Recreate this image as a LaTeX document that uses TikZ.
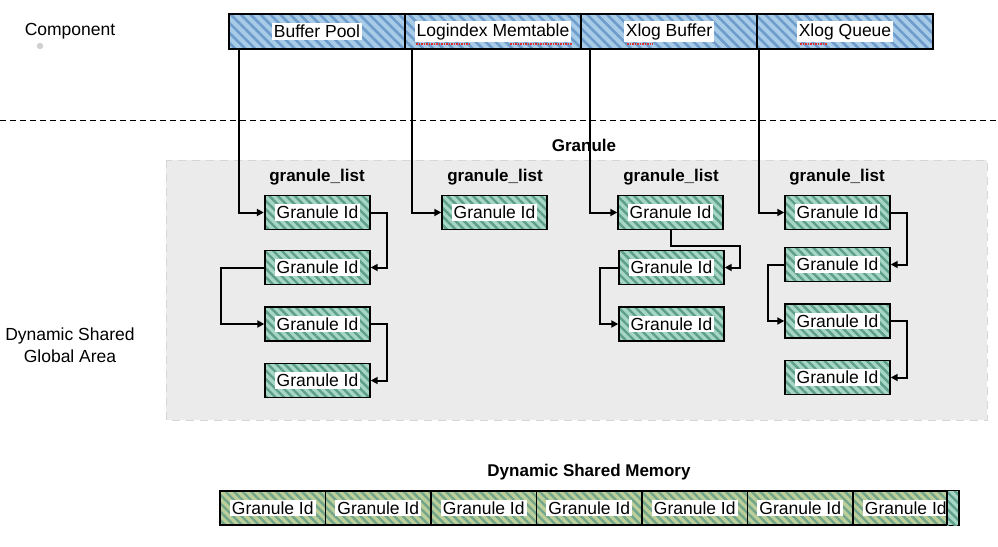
\documentclass[tikz,border=0pt]{standalone}
\usepackage{fontspec}
\setmainfont{Liberation Sans}
\usetikzlibrary{patterns.meta,arrows.meta,calc}
\definecolor{bluebase}{HTML}{A8CBE8}
\definecolor{bluestripe}{HTML}{6E9CCB}
\definecolor{tealbase}{HTML}{A6D6C6}
\definecolor{tealstripe}{HTML}{5E9E8A}
\definecolor{olivebase}{HTML}{BCCF9A}
\definecolor{olivestripe}{HTML}{72A58A}
\definecolor{areagray}{HTML}{EBEBEB}
\definecolor{areaborder}{HTML}{D6D6D6}
\definecolor{dotgray}{HTML}{D0D0D0}
\definecolor{spellred}{HTML}{E03030}
\newcommand{\wbox}[1]{{\setlength{\fboxsep}{2pt}\colorbox{white}{#1}}}
\tikzset{
  txt/.style={font=\fontsize{17.5}{21}\selectfont, inner sep=0pt},
  btxt/.style={font=\fontsize{17}{20}\selectfont\bfseries, inner sep=0pt},
  compbox/.style={draw=black, line width=1.4pt, minimum width=176, minimum height=35, inner sep=0pt,
    font=\fontsize{17.5}{21}\selectfont,
    preaction={fill=bluebase},
    pattern={Lines[angle=-45,distance=7pt,line width=2.6pt]}, pattern color=bluestripe},
  gbox/.style={draw=black, line width=1.4pt, minimum width=105, minimum height=34, inner sep=0pt,
    font=\fontsize{17.5}{21}\selectfont,
    preaction={fill=tealbase},
    pattern={Lines[angle=-45,distance=6pt,line width=2.4pt]}, pattern color=tealstripe},
  mbox/.style={draw=black, line width=1.4pt, minimum width=105.5, minimum height=34, inner sep=0pt,
    font=\fontsize{17.5}{21}\selectfont,
    preaction={fill=olivebase},
    pattern={Lines[angle=-45,distance=6pt,line width=2.4pt]}, pattern color=olivestripe},
  arr/.style={draw=black, line width=2pt, -{Triangle[length=7pt,width=7pt]}},
  spell/.style={draw=spellred, line width=1.2pt, dash pattern=on 1.5pt off 1pt},
}
\begin{document}
\begin{tikzpicture}[x=1pt,y=-1pt]
\useasboundingbox (0,0) rectangle (998,546);

% gray area
\path[fill=areagray, draw=areaborder, line width=1pt, dash pattern=on 8pt off 6pt] (166,160) rectangle (987,420);

% dashed separator
\coordinate (dl) at (0,120);
\coordinate (dr) at (998,120);
\draw[black, line width=1pt, dash pattern=on 6pt off 4pt] (dl) -- (dr);

% labels
\node[txt] (comp) at (70,31) {Component};
\fill[dotgray] (40,46) circle (3.2);
\node[btxt] (gran) at (584,145) {Granule};
\node[txt, align=center] (dsga) at (70,345) {Dynamic Shared\\[1pt]Global Area};
\node[btxt] (dsm) at (589,472) {Dynamic Shared Memory};

% component bar
\node[compbox] (bp) at (317,31.5) {\wbox{Buffer Pool}};
\node[compbox] (lm) at (493,31.5) {\wbox{Logindex Memtable}};
\node[compbox] (xb) at (669,31.5) {\wbox{Xlog Buffer}};
\node[compbox] (xq) at (845,31.5) {\wbox{Xlog Queue}};
\draw[spell] (416,44) -- (470,44);
\draw[spell] (510,44) -- (572,44);
\draw[spell] (627,44) -- (653,44);
\draw[spell] (800,44) -- (827,44);

% granule_list headings
\node[btxt] (h1) at (317,177) {granule\_list};
\node[btxt] (h2) at (495,177) {granule\_list};
\node[btxt] (h3) at (671,177) {granule\_list};
\node[btxt] (h4) at (837,177) {granule\_list};

% column 1
\node[gbox] (g11) at (317.5,212.5) {\wbox{Granule Id}};
\node[gbox] (g12) at (317.5,267.5) {\wbox{Granule Id}};
\node[gbox] (g13) at (317.5,324) {\wbox{Granule Id}};
\node[gbox] (g14) at (317.5,380.5) {\wbox{Granule Id}};
% column 2
\node[gbox] (g21) at (494.5,212.5) {\wbox{Granule Id}};
% column 3
\node[gbox] (g31) at (670.5,212.5) {\wbox{Granule Id}};
\node[gbox] (g32) at (671.5,267.5) {\wbox{Granule Id}};
\node[gbox] (g33) at (671.5,324) {\wbox{Granule Id}};
% column 4
\node[gbox] (g41) at (837.5,212.5) {\wbox{Granule Id}};
\node[gbox] (g42) at (837.5,264.5) {\wbox{Granule Id}};
\node[gbox] (g43) at (837.5,321) {\wbox{Granule Id}};
\node[gbox] (g44) at (837.5,377.5) {\wbox{Granule Id}};

% component -> list
\draw[arr] ([xshift=11pt]bp.south west) |- (g11.west);
\draw[arr] ([xshift=8pt]lm.south west) |- (g21.west);
\draw[arr] ([xshift=10pt]xb.south west) |- (g31.west);
\draw[arr] ([xshift=3pt]xq.south west) |- (g41.west);

% column 1 links
\draw[arr] (g11.east) -- ++(16,0) |- (g12.east);
\draw[arr] (g12.west) -- ++(-43,0) |- (g13.west);
\draw[arr] (g13.east) -- ++(16,0) |- (g14.east);
% column 3 links
\draw[arr] (g31.south) -- ++(0,16) -- ++(69,0) |- (g32.east);
\draw[arr] (g32.west) -- ++(-18,0) |- (g33.west);
% column 4 links
\draw[arr] (g41.east) -- ++(16,0) |- (g42.east);
\draw[arr] (g42.west) -- ++(-16,0) |- (g43.west);
\draw[arr] (g43.east) -- ++(16,0) |- (g44.east);

% dynamic shared memory
\foreach \i in {0,...,6} {
  \node[mbox] (m\i) at ({272.75+105.5*\i},508) {\wbox{Granule Id}};
}
\path[pattern={Lines[angle=-45,distance=6pt,line width=2.4pt]}, pattern color=tealstripe, preaction={fill=tealbase}]
  (947,491) rectangle (958,525);
\draw[black, line width=1.4pt] (947,491) -- (947,525);
\draw[black, line width=1.4pt] (m6.north east) -- (m6.south east);
\end{tikzpicture}
\end{document}
